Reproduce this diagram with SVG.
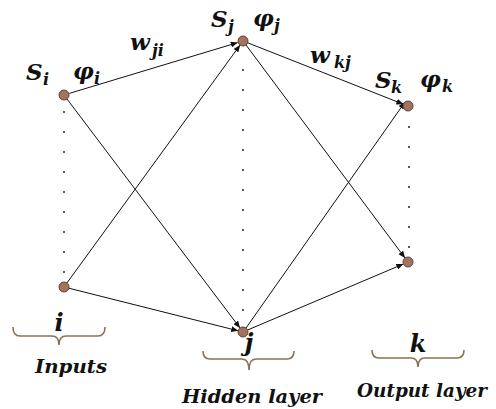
<svg xmlns="http://www.w3.org/2000/svg" width="496" height="409" viewBox="0 0 496 409">
<style>
.t{font-family:"DejaVu Serif","Liberation Serif",serif;font-weight:bold;font-style:italic;fill:#111}
.b{font-size:23px}
.s{font-size:16px}
.node{fill:#a2735f;stroke:#5e4034;stroke-width:1}
.edge{stroke:#111;stroke-width:1;fill:none;marker-end:url(#arr)}
.brace{stroke:#8b7355;stroke-width:1.6;fill:none}
.dot{fill:#222}
</style>
<defs>
<marker id="arr" markerUnits="userSpaceOnUse" markerWidth="8" markerHeight="6" refX="7" refY="3" orient="auto">
<path d="M0,0 L7,3 L0,6 z" fill="#111"/>
</marker>
</defs>
<rect width="496" height="409" fill="#fff"/>
<g id="dots">
<circle class="dot" cx="64" cy="112" r="1"/><circle class="dot" cx="64" cy="132" r="1"/><circle class="dot" cx="64" cy="152" r="1"/><circle class="dot" cx="64" cy="172" r="1"/><circle class="dot" cx="64" cy="192" r="1"/><circle class="dot" cx="64" cy="212" r="1"/><circle class="dot" cx="64" cy="232" r="1"/><circle class="dot" cx="64" cy="252" r="1"/><circle class="dot" cx="64" cy="272" r="1"/>
<circle class="dot" cx="243" cy="70" r="1"/><circle class="dot" cx="243" cy="90" r="1"/><circle class="dot" cx="243" cy="110" r="1"/><circle class="dot" cx="243" cy="130" r="1"/><circle class="dot" cx="243" cy="150" r="1"/><circle class="dot" cx="243" cy="170" r="1"/><circle class="dot" cx="243" cy="190" r="1"/><circle class="dot" cx="243" cy="210" r="1"/><circle class="dot" cx="243" cy="230" r="1"/><circle class="dot" cx="243" cy="250" r="1"/><circle class="dot" cx="243" cy="270" r="1"/><circle class="dot" cx="243" cy="290" r="1"/><circle class="dot" cx="243" cy="310" r="1"/>
<circle class="dot" cx="409" cy="127" r="1"/><circle class="dot" cx="409" cy="147" r="1"/><circle class="dot" cx="409" cy="167" r="1"/><circle class="dot" cx="409" cy="187" r="1"/><circle class="dot" cx="409" cy="207" r="1"/><circle class="dot" cx="409" cy="227" r="1"/><circle class="dot" cx="409" cy="247" r="1"/>
</g>
<g id="connectors">
<line class="edge" x1="69.3" y1="93.4" x2="237.7" y2="42.6"/>
<line class="edge" x1="67" y1="99" x2="240" y2="328"/>
<line class="edge" x1="66.9" y1="283" x2="240.1" y2="45"/>
<line class="edge" x1="68.8" y1="288.2" x2="238.2" y2="330.8"/>
<line class="edge" x1="247.7" y1="42.8" x2="403.3" y2="104.2"/>
<line class="edge" x1="246" y1="45" x2="405" y2="258"/>
<line class="edge" x1="246" y1="328" x2="405" y2="102"/>
<line class="edge" x1="247.6" y1="330" x2="403.4" y2="264"/>
</g>
<g id="input-top"><circle class="node" cx="64" cy="95" r="5"/></g>
<g id="input-bottom"><circle class="node" cx="64" cy="287" r="5"/></g>
<g id="hidden-top"><circle class="node" cx="243" cy="41" r="5"/></g>
<g id="hidden-bottom"><circle class="node" cx="243" cy="332" r="5"/></g>
<g id="output-top"><circle class="node" cx="408" cy="106" r="5"/></g>
<g id="output-bottom"><circle class="node" cx="408" cy="262" r="5"/></g>
<g id="labels">
<text class="t b" x="26" y="80">S</text><text class="t s" x="43" y="85">i</text>
<text class="t b" x="73" y="79">φ</text><text class="t s" x="94" y="84">i</text>
<text class="t b" x="130" y="50">w</text><text class="t s" x="152" y="56">ji</text>
<text class="t b" x="211" y="27">S</text><text class="t s" x="228" y="32">j</text>
<text class="t b" x="253" y="26">φ</text><text class="t s" x="274" y="31">j</text>
<text class="t b" x="310" y="63">w</text><text class="t s" x="334" y="68">kj</text>
<text class="t b" x="375" y="88">S</text><text class="t s" x="391" y="93">k</text>
<text class="t b" x="420" y="87">φ</text><text class="t s" x="442" y="92">k</text>
</g>
<g id="input-brace">
<path class="brace" d="M13,327 Q13,336 20,336 L52,336 Q59,336 59,345 Q59,336 66,336 L98,336 Q105,336 105,327"/>
<text class="t" x="59" y="331" font-size="24" text-anchor="middle">i</text>
<text class="t" x="35" y="373" font-size="19" textLength="72" lengthAdjust="spacingAndGlyphs">Inputs</text>
</g>
<g id="hidden-brace">
<path class="brace" d="M203,351 Q203,359 210,359 L242,359 Q249,359 249,370 Q249,359 256,359 L287,359 Q294,359 294,351"/>
<text class="t" x="182" y="403" font-size="19" textLength="140" lengthAdjust="spacingAndGlyphs">Hidden layer</text>
<text class="t" x="249" y="351" font-size="24" text-anchor="middle">j</text>
</g>
<g id="output-brace">
<path class="brace" d="M372,350 Q372,358 379,358 L411,358 Q418,358 418,367 Q418,358 425,358 L457,358 Q464,358 464,350"/>
<text class="t" x="418" y="352" font-size="24" text-anchor="middle">k</text>
<text class="t" x="357" y="397" font-size="18" textLength="130" lengthAdjust="spacingAndGlyphs">Output layer</text>
</g>
</svg>
